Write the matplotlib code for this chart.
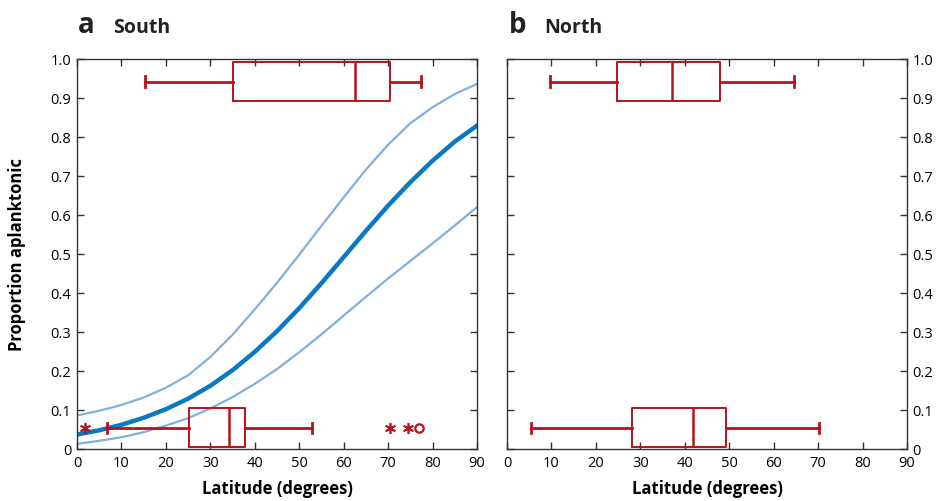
import numpy as np
import matplotlib
matplotlib.use("Agg")
import matplotlib.pyplot as plt

plt.rcParams['font.family'] = ['Open Sans', 'DejaVu Sans']

lat = [0, 5, 10, 15, 20, 25, 30, 35, 40, 45, 50, 55, 60, 65, 70, 75, 80, 85, 90]
fit = [0.037, 0.048, 0.062, 0.080, 0.102, 0.129, 0.162, 0.202, 0.249, 0.302,
       0.361, 0.425, 0.492, 0.559, 0.624, 0.684, 0.739, 0.788, 0.829]
fit_hi = [0.086, 0.098, 0.113, 0.132, 0.157, 0.189, 0.236, 0.293, 0.358, 0.426,
          0.498, 0.572, 0.645, 0.716, 0.780, 0.835, 0.876, 0.910, 0.936]
fit_lo = [0.013, 0.021, 0.030, 0.043, 0.060, 0.079, 0.104, 0.133, 0.167, 0.205,
          0.248, 0.294, 0.342, 0.390, 0.437, 0.482, 0.527, 0.573, 0.620]

# box plot summaries: (whisker low, q1, median, q3, whisker high)
south_plank = [6.7, 25.3, 34.3, 37.9, 52.8]
south_plank_star = [1.8, 70.4, 74.4]
south_plank_circ = [77.0]
south_aplank = [15.3, 35.0, 62.6, 70.4, 77.3]
north_plank = [5.5, 28.2, 41.9, 49.3, 70.3]
north_aplank = [9.7, 24.8, 37.2, 47.9, 64.6]

yticks = [0, 0.1, 0.2, 0.3, 0.4, 0.5, 0.6, 0.7, 0.8, 0.9, 1.0]
ytick_labels = ['0', '0.1', '0.2', '0.3', '0.4', '0.5', '0.6', '0.7', '0.8', '0.9', '1.0']
xticks = [0, 10, 20, 30, 40, 50, 60, 70, 80, 90]

red = '#b5121b'
blue = '#0a78c2'
lightblue = '#7fb1e0'
spine_c = '#333333'


def stats(v):
    return dict(whislo=v[0], q1=v[1], med=v[2], q3=v[3], whishi=v[4], fliers=[])


def draw_boxes(ax, low, high):
    ax.bxp([stats(low), stats(high)], positions=[0.054, 0.942], widths=0.10,
           orientation='horizontal', capwidths=0.026, showfliers=False,
           boxprops=dict(color=red, lw=1.4),
           whiskerprops=dict(color=red, lw=2.0),
           capprops=dict(color=red, lw=2.0),
           medianprops=dict(color=red, lw=1.8),
           manage_ticks=False)


def style(ax):
    ax.set_xlim(0, 90)
    ax.set_ylim(0, 1)
    ax.set_xticks(xticks)
    ax.set_yticks(yticks)
    ax.set_yticklabels(ytick_labels)
    ax.tick_params(direction='in', length=5, width=1, color=spine_c,
                   top=True, right=True, labelsize=10.5, pad=4)
    for s in ax.spines.values():
        s.set_color(spine_c)
        s.set_linewidth(1)
    ax.set_xlabel('Latitude (degrees)', fontsize=12, fontweight='bold', labelpad=7)


fig = plt.figure(figsize=(9.38, 5.02), dpi=100)
axa = fig.add_axes([0.0821, 0.1036, 0.4264, 0.777])
axb = fig.add_axes([0.5405, 0.1036, 0.4264, 0.777])

# panel a
axa.plot(lat, fit_hi, color=lightblue, lw=1.6)
axa.plot(lat, fit_lo, color=lightblue, lw=1.6)
axa.plot(lat, fit, color=blue, lw=3.2)
draw_boxes(axa, south_plank, south_aplank)
axa.plot(south_plank_star, [0.054] * len(south_plank_star), ls='none',
         marker=(6, 2, 0), ms=8, mew=1.2, color=red)
axa.plot(south_plank_circ, [0.054], ls='none', marker='o', ms=6, mew=1.6,
         mfc='none', mec=red)
style(axa)
axa.set_ylabel('Proportion aplanktonic', fontsize=12, fontweight='bold', labelpad=18)

# panel b
draw_boxes(axb, north_plank, north_aplank)
style(axb)
axb.yaxis.tick_right()
axb.tick_params(axis='y', left=True, right=True, direction='in')

fig.text(0.083, 0.934, 'a', fontsize=20, fontweight='bold', va='baseline', color='#222222')
fig.text(0.121, 0.934, 'South', fontsize=14, fontweight='bold', va='baseline', color='#222222')
fig.text(0.542, 0.934, 'b', fontsize=20, fontweight='bold', va='baseline', color='#222222')
fig.text(0.580, 0.934, 'North', fontsize=14, fontweight='bold', va='baseline', color='#222222')

fig.savefig('out.png', dpi=100)
